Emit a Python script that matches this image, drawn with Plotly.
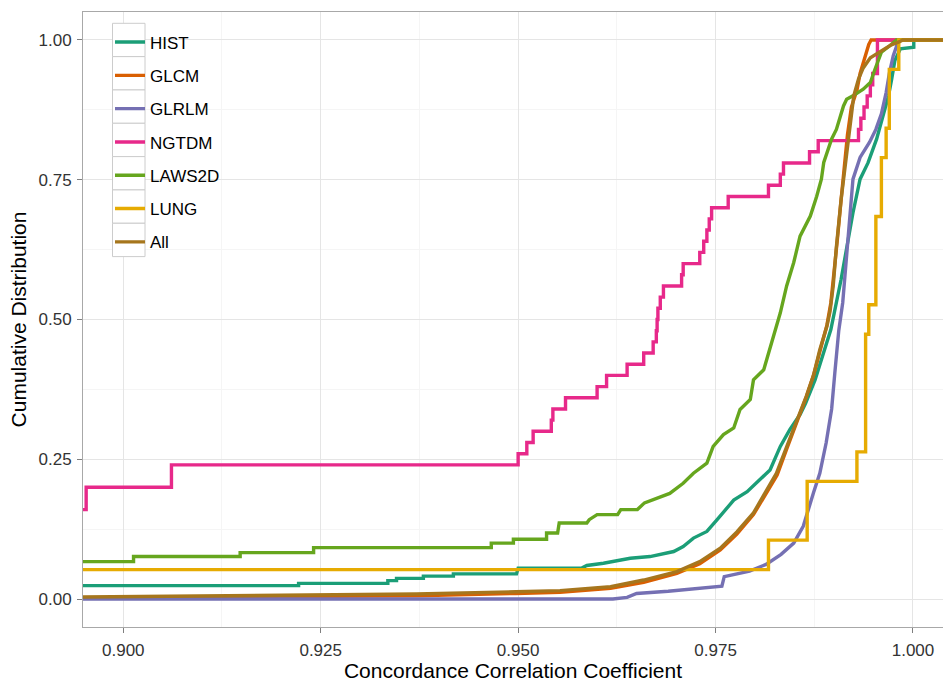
import plotly.graph_objects as go

# ---------------- data ----------------
series_names = ["HIST", "GLCM", "GLRLM", "NGTDM", "LAWS2D", "LUNG", "All"]
series_colors = ["#1B9E77", "#D95F02", "#7570B3", "#E7298A", "#66A61E", "#E6AB02", "#A6761D"]

hist_x = [0.89, 0.9222, 0.9222, 0.9335, 0.9335, 0.9346, 0.9346, 0.9380, 0.9380, 0.9418, 0.9418,
          0.9498, 0.9500, 0.9580, 0.9587, 0.9608, 0.9642, 0.9667, 0.9697, 0.9709, 0.9722, 0.9739,
          0.9752, 0.9773, 0.9790, 0.9806, 0.9819, 0.9832, 0.9844, 0.9857, 0.9864, 0.9876, 0.9896,
          0.9909, 0.9916, 0.9924, 0.9933, 0.9943, 0.9954, 0.9962, 0.9969, 0.9973, 0.9977, 0.9984,
          1.0001, 1.0001, 1.01]
hist_y = [0.024, 0.024, 0.028, 0.028, 0.033, 0.033, 0.037, 0.037, 0.041, 0.041, 0.045,
          0.045, 0.055, 0.055, 0.060, 0.064, 0.073, 0.076, 0.085, 0.094, 0.109, 0.121,
          0.142, 0.177, 0.192, 0.213, 0.231, 0.273, 0.303, 0.330, 0.350, 0.392, 0.482,
          0.572, 0.631, 0.691, 0.751, 0.780, 0.823, 0.864, 0.900, 0.930, 0.963, 0.984,
          0.987, 1.0, 1.0]

glcm_x = [0.89, 0.9245, 0.9371, 0.9497, 0.9553, 0.9617, 0.9659, 0.9701, 0.9730, 0.9756, 0.9777,
          0.9798, 0.9815, 0.9828, 0.9840, 0.9853, 0.9865, 0.9874, 0.9882, 0.9891, 0.9896, 0.9900,
          0.9904, 0.9909, 0.9913, 0.9917, 0.9922, 0.9929, 0.9933, 0.9939, 0.9944, 0.9947, 1.01]
glcm_y = [0.001, 0.004, 0.006, 0.010, 0.012, 0.019, 0.030, 0.046, 0.063, 0.088, 0.116,
          0.151, 0.192, 0.222, 0.268, 0.315, 0.362, 0.400, 0.445, 0.490, 0.530, 0.580,
          0.640, 0.715, 0.770, 0.830, 0.880, 0.910, 0.940, 0.970, 0.992, 1.0, 1.0]

glrlm_x = [0.89, 0.9620, 0.9638, 0.9650, 0.9690, 0.9722, 0.9758, 0.9761, 0.9793, 0.9814, 0.9833,
           0.9849, 0.9861, 0.9874, 0.9882, 0.9890, 0.9897, 0.9901, 0.9906, 0.9911, 0.9915, 0.9920,
           0.9924, 0.9933, 0.9945, 0.9953, 0.9960, 0.9966, 0.9970, 0.9975, 0.9979, 0.9982, 1.01]
glrlm_y = [0.0, 0.0, 0.003, 0.010, 0.014, 0.018, 0.023, 0.040, 0.050, 0.062, 0.080,
           0.100, 0.130, 0.190, 0.225, 0.279, 0.340, 0.404, 0.480, 0.530, 0.602, 0.691,
           0.751, 0.790, 0.817, 0.840, 0.868, 0.906, 0.940, 0.972, 0.990, 1.0, 1.0]

ngtdm_x = [0.89, 0.8953, 0.9061, 0.9500, 0.9511, 0.9519, 0.9542, 0.9544, 0.9560, 0.9600, 0.9612,
           0.9638, 0.9659, 0.9671, 0.9675, 0.9676, 0.9677, 0.9680, 0.9684, 0.9707, 0.9709, 0.9730,
           0.9735, 0.9739, 0.9742, 0.9745, 0.9766, 0.9817, 0.9832, 0.9836, 0.9869, 0.9880, 0.9931,
           0.9934, 0.9938, 0.9942, 0.9946, 0.9949, 0.9955, 1.01]
ngtdm_y = [0.16, 0.20, 0.24, 0.26, 0.28, 0.30, 0.32, 0.34, 0.36, 0.38, 0.40,
           0.42, 0.44, 0.46, 0.48, 0.50, 0.52, 0.54, 0.56, 0.58, 0.60, 0.62,
           0.64, 0.66, 0.68, 0.70, 0.72, 0.74, 0.76, 0.78, 0.80, 0.82, 0.84,
           0.86, 0.88, 0.90, 0.92, 0.94, 1.0, 1.0]

laws_x = [0.89, 0.9013, 0.9013, 0.9148, 0.9148, 0.9241, 0.9241, 0.9466, 0.9466, 0.9494, 0.9494,
          0.9536, 0.9536, 0.9550, 0.9552, 0.9587, 0.9590, 0.9600, 0.9626, 0.9630, 0.9651, 0.9660,
          0.9692, 0.9709, 0.9722, 0.9739, 0.9747, 0.9760, 0.9773, 0.9781, 0.9794, 0.9798, 0.9811,
          0.9819, 0.9832, 0.9840, 0.9849, 0.9857, 0.9870, 0.9878, 0.9884, 0.9887, 0.9897, 0.9903,
          0.9912, 0.9916, 0.9924, 0.9937, 0.9946, 0.9952, 0.9960, 0.9971, 0.9979, 1.01]
laws_y = [0.067, 0.067, 0.076, 0.076, 0.083, 0.083, 0.092, 0.092, 0.100, 0.100, 0.107,
          0.107, 0.118, 0.118, 0.136, 0.136, 0.142, 0.151, 0.151, 0.160, 0.160, 0.172,
          0.189, 0.207, 0.225, 0.243, 0.273, 0.294, 0.306, 0.339, 0.357, 0.392, 0.410,
          0.449, 0.512, 0.560, 0.602, 0.649, 0.685, 0.720, 0.751, 0.781, 0.823, 0.840,
          0.882, 0.894, 0.900, 0.912, 0.924, 0.948, 0.978, 0.990, 1.0, 1.0]

lung_x = [0.89, 0.9817, 0.9866, 0.9929, 0.9940, 0.9944, 0.9953, 0.9960, 0.9966, 0.9970, 0.9982, 1.01]
lung_y = [0.0526, 0.1053, 0.2105, 0.2632, 0.4737, 0.5263, 0.6842, 0.7895, 0.8421, 0.9474, 1.0, 1.0]

all_x = [0.89, 0.9245, 0.9371, 0.9497, 0.9553, 0.9617, 0.9659, 0.9701, 0.9730, 0.9756, 0.9777,
         0.9798, 0.9815, 0.9827, 0.9840, 0.9853, 0.9865, 0.9874, 0.9882, 0.9891, 0.9895, 0.9899,
         0.9903, 0.9909, 0.9912, 0.9917, 0.9920, 0.9925, 0.9931, 0.9937, 0.9946, 0.9954, 0.9971,
         0.9983, 0.9987, 1.01]
all_y = [0.003, 0.007, 0.009, 0.013, 0.015, 0.022, 0.034, 0.049, 0.067, 0.091, 0.120,
         0.154, 0.195, 0.225, 0.272, 0.318, 0.363, 0.400, 0.446, 0.488, 0.515, 0.560,
         0.630, 0.715, 0.751, 0.800, 0.845, 0.900, 0.930, 0.950, 0.968, 0.975, 0.990,
         0.997, 1.0, 1.0]

series_x = [hist_x, glcm_x, glrlm_x, ngtdm_x, laws_x, lung_x, all_x]
series_y = [hist_y, glcm_y, glrlm_y, ngtdm_y, laws_y, lung_y, all_y]
series_shape = ["linear", "linear", "linear", "hv", "linear", "hv", "linear"]

x_ticks = [0.900, 0.925, 0.950, 0.975, 1.000]
x_tick_labels = ["0.900", "0.925", "0.950", "0.975", "1.000"]
y_ticks = [0.00, 0.25, 0.50, 0.75, 1.00]
y_tick_labels = ["0.00", "0.25", "0.50", "0.75", "1.00"]

# ---------------- figure ----------------
W, H = 943, 682
ML, MR, MT, MB = 83, 0, 12, 55
PW, PH = W - ML - MR, H - MT - MB

fig = go.Figure()
for i, name in enumerate(series_names):
    fig.add_trace(go.Scatter(
        x=series_x[i], y=series_y[i], mode="lines", name=name,
        line=dict(color=series_colors[i], width=3.4, shape=series_shape[i]),
        legendgroup=name, cliponaxis=True,
    ))

def px2paper_x(px):
    return (px - ML) / PW

def px2paper_y(py):
    return (H - MB - py) / PH

# legend key boxes (ggplot-style)
shapes = []
box_top = 23.3
box_h = 33.33
for i in range(len(series_names)):
    shapes.append(dict(
        type="rect", xref="paper", yref="paper", layer="above",
        x0=px2paper_x(112.5), x1=px2paper_x(145),
        y0=px2paper_y(box_top + box_h * i), y1=px2paper_y(box_top + box_h * (i + 1)),
        line=dict(color="#CCCCCC", width=1), fillcolor="white",
    ))

fig.update_layout(
    width=W, height=H,
    margin=dict(l=ML, r=MR, t=MT, b=MB),
    paper_bgcolor="white", plot_bgcolor="white",
    font=dict(family="Liberation Sans, Arial, sans-serif", color="#000000"),
    shapes=shapes,
    showlegend=True,
    legend=dict(
        x=px2paper_x(110), y=px2paper_y(24.5), xanchor="left", yanchor="top",
        bgcolor="rgba(0,0,0,0)", borderwidth=0,
        font=dict(size=17, color="#000000"),
        tracegroupgap=8.2, traceorder="grouped",
    ),
    xaxis=dict(
        range=[0.8949, 1.0038], tickvals=x_ticks, ticktext=x_tick_labels,
        showgrid=True, gridcolor="#E5E5E5", gridwidth=1,
        minor=dict(showgrid=True, gridcolor="#F5F5F5", gridwidth=1, dtick=0.0125, tick0=0.9, ticks=""),
        ticks="outside", ticklen=5, tickcolor="#7F7F7F", tickwidth=1,
        ticklabelstandoff=3,
        tickfont=dict(size=17, color="#333333"),
        showline=True, linecolor="#A8A8A8", linewidth=1, mirror=True,
        zeroline=False,
        title=dict(text="Concordance Correlation Coefficient", font=dict(size=21, color="#000000"), standoff=4),
        automargin=False,
    ),
    yaxis=dict(
        range=[-0.05, 1.05], tickvals=y_ticks, ticktext=y_tick_labels,
        showgrid=True, gridcolor="#E5E5E5", gridwidth=1,
        minor=dict(showgrid=True, gridcolor="#F5F5F5", gridwidth=1, dtick=0.125, tick0=0, ticks=""),
        ticks="outside", ticklen=5, tickcolor="#7F7F7F", tickwidth=1,
        ticklabelstandoff=2,
        tickfont=dict(size=17, color="#333333"),
        showline=True, linecolor="#A8A8A8", linewidth=1, mirror=False,
        zeroline=False,
        title=dict(text="Cumulative Distribution", font=dict(size=21, color="#000000"), standoff=6),
        automargin=False,
    ),
)

fig.write_html("out.html")
